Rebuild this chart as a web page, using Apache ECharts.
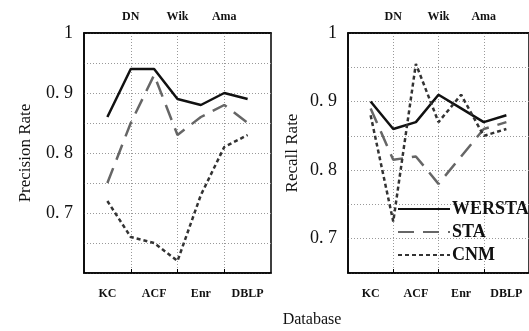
<!DOCTYPE html>
<html>
<head>
<meta charset="utf-8">
<script src="https://cdn.jsdelivr.net/npm/echarts@6/dist/echarts.min.js"></script>
<style>
  html, body { margin: 0; padding: 0; background: #fff; }
  #chart { width: 529px; height: 331px; }
</style>
</head>
<body>
<div id="chart"></div>
<script>
// 数据集名称（下方 KC/ACF/Enr/DBLP，上方 DN/Wik/Ama）
const categories = ['KC', 'DN', 'ACF', 'Wik', 'Enr', 'Ama', 'DBLP'];
const seriesNames = ['WERSTA', 'STA', 'CNM'];

// Precision Rate
const precWERSTA = [0.86, 0.94, 0.94, 0.89, 0.88, 0.90, 0.89];
const precSTA = [0.75, 0.85, 0.93, 0.83, 0.86, 0.88, 0.85];
const precCNM = [0.72, 0.66, 0.65, 0.62, 0.73, 0.81, 0.83];

// Recall Rate
const recWERSTA = [0.90, 0.86, 0.87, 0.91, 0.89, 0.87, 0.88];
const recSTA = [0.89, 0.815, 0.82, 0.78, 0.82, 0.86, 0.87];
const recCNM = [0.88, 0.725, 0.955, 0.87, 0.91, 0.85, 0.86];

// 轴的槽位：首尾留空，数据放在 1..7
const slots = ['', ...categories, ''];

const serif = 'Liberation Serif';
const lineStyles = [
  { color: '#111', width: 2.5, type: 'solid' },
  { color: '#666', width: 2.5, type: [16, 9] },
  { color: '#333', width: 2.5, type: [4, 3] }
];

const yFmt = v => {
  const t = Math.round(v * 10);
  if (Math.abs(v * 10 - t) > 1e-6) return '';
  return t === 10 ? '1' : '0. ' + t;
};

function xAxes(gridIndex) {
  const base = {
    gridIndex,
    type: 'category',
    data: slots,
    boundaryGap: false,
    axisLine: { show: true, lineStyle: { color: '#000', width: 1.5 } },
    axisLabel: {
      fontFamily: serif, fontWeight: 'bold', fontSize: 12, color: '#111'
    }
  };
  return [
    {
      ...base,
      position: 'bottom',
      axisTick: { show: true, inside: true, length: 4, interval: i => i === 2 || i === 4 || i === 6 },
      axisLabel: { ...base.axisLabel, margin: 15, interval: i => i % 2 === 1 },
      splitLine: {
        show: true,
        interval: i => i === 2 || i === 4 || i === 6,
        lineStyle: { color: '#999', type: [1, 2], width: 1 }
      }
    },
    {
      ...base,
      position: 'top',
      axisTick: { show: false },
      axisLabel: { ...base.axisLabel, margin: 10, interval: i => i === 2 || i === 4 || i === 6 },
      splitLine: { show: false }
    }
  ];
}

function yAxis(gridIndex, min, name, nameGap) {
  return {
    gridIndex,
    type: 'value',
    min,
    max: 1,
    interval: 0.05,
    name,
    nameLocation: 'middle',
    nameGap,
    nameTextStyle: { fontFamily: serif, fontSize: 17, color: '#111' },
    axisLine: { show: true, lineStyle: { color: '#000', width: 1.5 } },
    axisTick: { show: false },
    axisLabel: {
      formatter: yFmt,
      showMinLabel: false,
      fontFamily: serif, fontSize: 18, color: '#111', margin: 11
    },
    splitLine: { show: true, lineStyle: { color: '#999', type: [1, 2], width: 1 } }
  };
}

function makeSeries(names, arrays, xAxisIndex, yAxisIndex) {
  return arrays.map((arr, k) => ({
    name: names[k],
    type: 'line',
    xAxisIndex,
    yAxisIndex,
    symbol: 'none',
    data: arr.map((v, i) => [i + 1, v]),
    lineStyle: lineStyles[k],
    itemStyle: { color: lineStyles[k].color }
  }));
}

const chart = echarts.init(document.getElementById('chart'));
chart.setOption({
  animation: false,
  backgroundColor: '#fff',
  grid: [
    { left: 84, top: 33, width: 187, height: 240, show: true, borderColor: '#000', borderWidth: 1.5 },
    { left: 348, top: 33, width: 188, height: 240, show: true, borderColor: '#000', borderWidth: 1.5 }
  ],
  xAxis: [...xAxes(0), ...xAxes(1)],
  yAxis: [
    yAxis(0, 0.6, 'Precision Rate', 50),
    yAxis(1, 0.65, 'Recall Rate', 47)
  ],
  legend: {
    data: seriesNames,
    orient: 'vertical',
    left: 392,
    top: 195,
    itemWidth: 52,
    itemHeight: 14,
    itemGap: 5,
    itemStyle: { opacity: 0 },
    textStyle: { fontFamily: serif, fontWeight: 'bold', fontSize: 18, color: '#111', padding: [0, 0, 0, -3] }
  },
  title: {
    text: 'Database',
    left: 307,
    top: 307,
    textAlign: 'center',
    textStyle: { fontFamily: serif, fontWeight: 'normal', fontSize: 16, color: '#111' }
  },
  series: [
    ...makeSeries(seriesNames, [precWERSTA, precSTA, precCNM], 0, 0),
    ...makeSeries(seriesNames, [recWERSTA, recSTA, recCNM], 2, 1)
  ]
});
</script>
</body>
</html>
